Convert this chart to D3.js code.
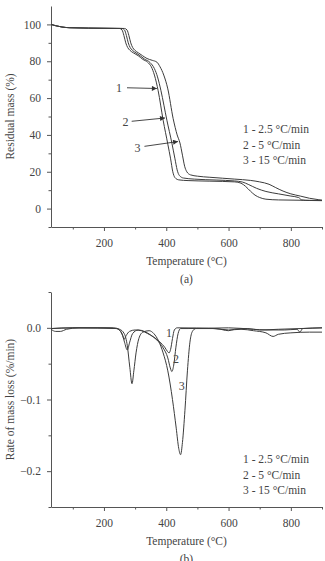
<!DOCTYPE html>
<meta charset="utf-8">

<style>

body {
  margin: 0;
  background: #fff;
}

svg text {
  font-family: "Liberation Serif", "DejaVu Serif", serif;
  fill: #444;
}

.axis path, .axis line {
  stroke: #555;
}

.curve {
  fill: none;
  stroke: #3c3c3c;
  stroke-width: 1;
}

</style>

<svg class="chart" width="325" height="561"></svg>

<script src="https://d3js.org/d3.v7.min.js"></script>

<script>

// temperature axis shared by both panels
var xDomain = [30, 900];
var xMajor = [200, 400, 600, 800];
var xMinor = [100, 300, 500, 700, 900];

// (a) residual mass, %  [temperature, mass]
var tgYDomain = [-10, 110];
var tgYMajor = [0, 20, 40, 60, 80, 100];
var tgYMinor = [-10, 10, 30, 50, 70, 90];

var tg1 = [[30,100],[45,99.3],[65,98.6],[90,98.2],[150,98],[250,97.8],[258,97],[264,94],[270,90],[276,87.5],
  [283,86],[295,84.5],[310,83],[325,81],[340,79.5],[352,77],[362,72.5],[374,64],[390,48],[405,35],[414,27],
  [421,20],[428,16.8],[440,15.6],[470,15.2],[540,14.9],[620,14.5],[640,13.8],[655,12],[670,9.5],[685,7.3],
  [700,6],[720,5.1],[760,4.7],[840,4.5],[900,4.4]];

var tg2 = [[30,100],[45,99.3],[65,98.6],[90,98.2],[150,98],[258,97.8],[266,97],[272,94],[278,90],[284,87.5],
  [291,86],[303,84.5],[316,83],[330,81.2],[348,79.3],[362,76],[372,71.5],[383,64],[402,48],[418,35.6],[428,27],
  [435,21],[442,18],[455,16.6],[490,16],[560,15.5],[620,15],[645,14.4],[665,13],[690,11],[720,9.3],[760,8],
  [800,6.8],[825,6],[835,4.7],[860,4.4],[900,4.3]];

var tg3 = [[30,100],[45,99.3],[65,98.6],[90,98.2],[150,98],[266,97.8],[274,97],[280,94],[286,90],[292,87.5],
  [299,86],[311,84.5],[324,83],[338,81.5],[355,80.5],[370,79.5],[380,77],[392,72.5],[405,65],[422,49],[435,40],
  [444,35.6],[452,29],[459,23],[466,20],[478,18.3],[500,17.6],[540,17],[580,16.5],[620,16],[670,15.3],[700,14.5],
  [730,13.2],[750,11.5],[775,9.5],[800,8],[830,6.8],[860,5.6],[890,4.8],[900,4.6]];

// (b) rate of mass loss, %/min  [temperature, rate]
var dtgYDomain = [-0.25, 0.05];
var dtgYMajor = [0, -0.1, -0.2];
var dtgYMinor = [0.05, -0.05, -0.15, -0.25];

var dtg1 = [[30,-0.001],[100,0],[200,0],[240,-0.001],[252,-0.004],[260,-0.011],[265,-0.016],[271,-0.011],
  [282,-0.005],[300,-0.003],[320,-0.004],[340,-0.008],[360,-0.013],[380,-0.02],[395,-0.027],[404,-0.033],
  [409,-0.035],[414,-0.03],[420,-0.015],[426,-0.003],[435,0],[560,-0.001],[600,-0.004],[620,-0.002],
  [660,-0.001],[700,-0.003],[760,-0.002],[900,0]];

var dtg2 = [[30,-0.002],[45,-0.005],[60,-0.005],[80,-0.002],[120,0],[240,-0.001],[258,-0.008],[266,-0.02],
  [275,-0.031],[282,-0.021],[292,-0.008],[310,-0.003],[330,-0.005],[350,-0.01],[370,-0.017],[390,-0.028],
  [405,-0.042],[413,-0.056],[418,-0.061],[424,-0.052],[431,-0.027],[438,-0.008],[446,-0.001],[470,-0.001],
  [600,0],[680,-0.002],[720,-0.003],[780,-0.003],[820,-0.002],[829,-0.006],[838,-0.001],[900,0]];

var dtg3 = [[30,-0.001],[100,0],[230,0],[250,-0.002],[265,-0.008],[275,-0.025],[283,-0.055],[290,-0.078],
  [296,-0.06],[303,-0.035],[312,-0.015],[325,-0.006],[345,-0.004],[360,-0.008],[375,-0.018],[390,-0.035],
  [405,-0.06],[420,-0.1],[432,-0.14],[440,-0.168],[446,-0.177],[452,-0.16],[460,-0.115],[468,-0.06],
  [476,-0.02],[484,-0.005],[495,-0.001],[550,-0.001],[600,-0.003],[640,-0.002],[680,-0.004],[720,-0.007],
  [743,-0.012],[760,-0.009],[800,-0.007],[860,-0.006],[900,-0.006]];

var legendLines = ["1 - 2.5 \u00B0C/min", "2 - 5 \u00B0C/min", "3 - 15 \u00B0C/min"];

// curve labels with arrows on (a): label position and arrow tail/tip, in data units
var tgNotes = [
  {text: "1", at: [248, 65.5], from: [274, 65.6], to: [370, 65.2]},
  {text: "2", at: [269, 47.3], from: [289, 47.4], to: [396, 49.2]},
  {text: "3", at: [308, 33.2], from: [330, 33.8], to: [438, 36.4]}
];

// plain curve labels on (b)
var dtgNotes = [
  {text: "1", at: [409, -0.007]},
  {text: "2", at: [431, -0.043]},
  {text: "3", at: [450, -0.081]}
];

var svg = d3.select("svg.chart");

svg.append("defs").append("marker")
    .attr("id", "arrow")
    .attr("viewBox", "0 0 10 10")
    .attr("refX", 10)
    .attr("refY", 5)
    .attr("markerWidth", 6)
    .attr("markerHeight", 5)
    .attr("markerUnits", "userSpaceOnUse")
    .attr("orient", "auto")
  .append("path")
    .attr("d", "M0,0L10,5L0,10Z")
    .attr("fill", "#333");

function fmtRate(d) {
  return d === 0 ? "0.0" : (d < 0 ? "\u2212" : "") + Math.abs(d).toFixed(1);
}

function panel(opts) {
  var g = svg.append("g");
  var x = d3.scaleLinear().domain(xDomain).range([51, 322]);
  var y = d3.scaleLinear().domain(opts.yDomain).range([opts.bottom, opts.top]);

  // x axis
  g.append("g")
      .attr("class", "axis")
      .attr("transform", `translate(0,${opts.bottom})`)
      .call(d3.axisBottom(x).tickValues(xMinor).tickSize(2.5).tickFormat(""))
      .call(a => a.select(".domain").remove());
  g.append("g")
      .attr("class", "axis")
      .attr("transform", `translate(0,${opts.bottom})`)
      .call(d3.axisBottom(x).tickValues(xMajor).tickSizeInner(4).tickSizeOuter(0).tickPadding(8))
      .call(a => a.selectAll("text").style("font-size", "11.5px"));

  // y axis
  g.append("g")
      .attr("class", "axis")
      .attr("transform", "translate(51,0)")
      .call(d3.axisLeft(y).tickValues(opts.yMinor).tickSize(2.5).tickFormat(""))
      .call(a => a.select(".domain").remove());
  g.append("g")
      .attr("class", "axis")
      .attr("transform", "translate(51,0)")
      .call(d3.axisLeft(y).tickValues(opts.yMajor).tickSizeInner(4).tickSizeOuter(0).tickPadding(6).tickFormat(opts.fmt))
      .call(a => a.selectAll("text").style("font-size", "11.5px"));

  var line = d3.line()
      .x(d => x(d[0]))
      .y(d => y(d[1]))
      .curve(d3.curveMonotoneX);

  g.selectAll("path.curve")
    .data(opts.series)
    .join("path")
      .attr("class", "curve")
      .attr("d", line);

  // legend
  g.selectAll("text.legend")
    .data(legendLines)
    .join("text")
      .attr("class", "legend")
      .attr("x", 243)
      .attr("y", (d, i) => opts.legendY + i * 15.5)
      .style("font-size", "11.5px")
      .text(d => d);

  // axis titles
  g.append("text")
      .attr("x", 186.5)
      .attr("y", opts.bottom + 38)
      .attr("text-anchor", "middle")
      .style("font-size", "11.5px")
      .text("Temperature (\u00B0C)");
  g.append("text")
      .attr("transform", `translate(14,${(opts.top + opts.bottom) / 2}) rotate(-90)`)
      .attr("text-anchor", "middle")
      .style("font-size", "11.5px")
      .text(opts.yTitle);
  g.append("text")
      .attr("x", 186.5)
      .attr("y", opts.bottom + 56)
      .attr("text-anchor", "middle")
      .style("font-size", "11.5px")
      .text(opts.tag);

  return {g: g, x: x, y: y};
}

var a = panel({
  top: 6, bottom: 227,
  yDomain: tgYDomain, yMajor: tgYMajor, yMinor: tgYMinor,
  fmt: d3.format("d"),
  series: [tg1, tg2, tg3],
  legendY: 133,
  yTitle: "Residual mass (%)",
  tag: "(a)"
});

var b = panel({
  top: 292, bottom: 507,
  yDomain: dtgYDomain, yMajor: dtgYMajor, yMinor: dtgYMinor,
  fmt: fmtRate,
  series: [dtg1, dtg2, dtg3],
  legendY: 463,
  yTitle: "Rate of mass loss (%/min)",
  tag: "(b)"
});

// arrows + labels on (a)
a.g.selectAll("line.note")
  .data(tgNotes)
  .join("line")
    .attr("class", "note")
    .attr("x1", d => a.x(d.from[0]))
    .attr("y1", d => a.y(d.from[1]))
    .attr("x2", d => a.x(d.to[0]))
    .attr("y2", d => a.y(d.to[1]))
    .attr("stroke", "#333")
    .attr("stroke-width", 0.9)
    .attr("marker-end", "url(#arrow)");

a.g.selectAll("text.note")
  .data(tgNotes)
  .join("text")
    .attr("class", "note")
    .attr("x", d => a.x(d.at[0]))
    .attr("y", d => a.y(d.at[1]))
    .attr("dy", "0.35em")
    .attr("text-anchor", "middle")
    .style("font-size", "12px")
    .text(d => d.text);

b.g.selectAll("text.note")
  .data(dtgNotes)
  .join("text")
    .attr("class", "note")
    .attr("x", d => b.x(d.at[0]))
    .attr("y", d => b.y(d.at[1]))
    .attr("dy", "0.35em")
    .attr("text-anchor", "middle")
    .style("font-size", "12px")
    .text(d => d.text);

</script>
